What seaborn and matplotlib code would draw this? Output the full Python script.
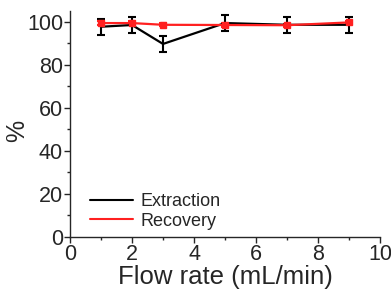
import matplotlib
matplotlib.use("Agg")
import matplotlib.pyplot as plt
from matplotlib.ticker import MultipleLocator
import seaborn as sns
import pandas as pd

flow_rate = [1, 2, 3, 5, 7, 9]
extraction = [97.7, 98.5, 89.7, 99.4, 98.6, 98.6]
extraction_err = [3.7, 3.7, 3.7, 3.8, 3.8, 3.7]
recovery = [99.4, 99.4, 98.6, 98.5, 98.4, 99.7]
recovery_err = [0.8, 0.8, 0.6, 0.8, 0.7, 0.8]

df = pd.DataFrame({"flow": flow_rate * 2,
                   "value": extraction + recovery,
                   "series": ["Extraction"] * 6 + ["Recovery"] * 6})

sns.set_style("ticks")
plt.rcParams['font.family'] = ['Liberation Sans', 'DejaVu Sans']

fig = plt.figure(figsize=(3.91, 2.90), dpi=100)
ax = fig.add_axes([0.179, 0.183, 0.793, 0.779])

ax.errorbar(flow_rate, extraction, yerr=extraction_err, fmt='none',
            ecolor='black', elinewidth=1.5, capsize=3, capthick=1.5, zorder=2)
ax.errorbar(flow_rate, recovery, yerr=recovery_err, fmt='none',
            ecolor='#ff2020', elinewidth=1.5, capsize=3, capthick=1.5, zorder=3)
sns.lineplot(data=df, x="flow", y="value", hue="series",
             palette={"Extraction": "black", "Recovery": "#ff2020"},
             linewidth=1.6, ax=ax, zorder=4)
ax.plot(flow_rate, recovery, linestyle='none', marker='s', markersize=4,
        color='#ff2020', zorder=5)

ax.set_xlim(0, 10)
ax.set_ylim(0, 105)
ax.xaxis.set_major_locator(MultipleLocator(2))
ax.xaxis.set_minor_locator(MultipleLocator(1))
ax.yaxis.set_major_locator(MultipleLocator(20))
ax.yaxis.set_minor_locator(MultipleLocator(10))
ax.tick_params(which='major', length=4, width=1, labelsize=15.5, direction='out', pad=1)
ax.tick_params(which='minor', length=2.5, width=1, direction='out')
for s in ['left', 'bottom']:
    ax.spines[s].set_linewidth(1)
sns.despine(ax=ax)

ax.set_xlabel("Flow rate (mL/min)", fontsize=18.5, labelpad=0)
ax.set_ylabel("%", fontsize=18)
ax.yaxis.set_label_coords(-0.133, 0.47)

leg = ax.legend(loc='lower left', bbox_to_anchor=(0.04, 0.0), frameon=False,
                fontsize=13, handlelength=2.4, handletextpad=0.4,
                labelspacing=0.15, borderaxespad=0)
for line in leg.get_lines():
    line.set_linewidth(1.5)

fig.savefig("out.png", dpi=100)
